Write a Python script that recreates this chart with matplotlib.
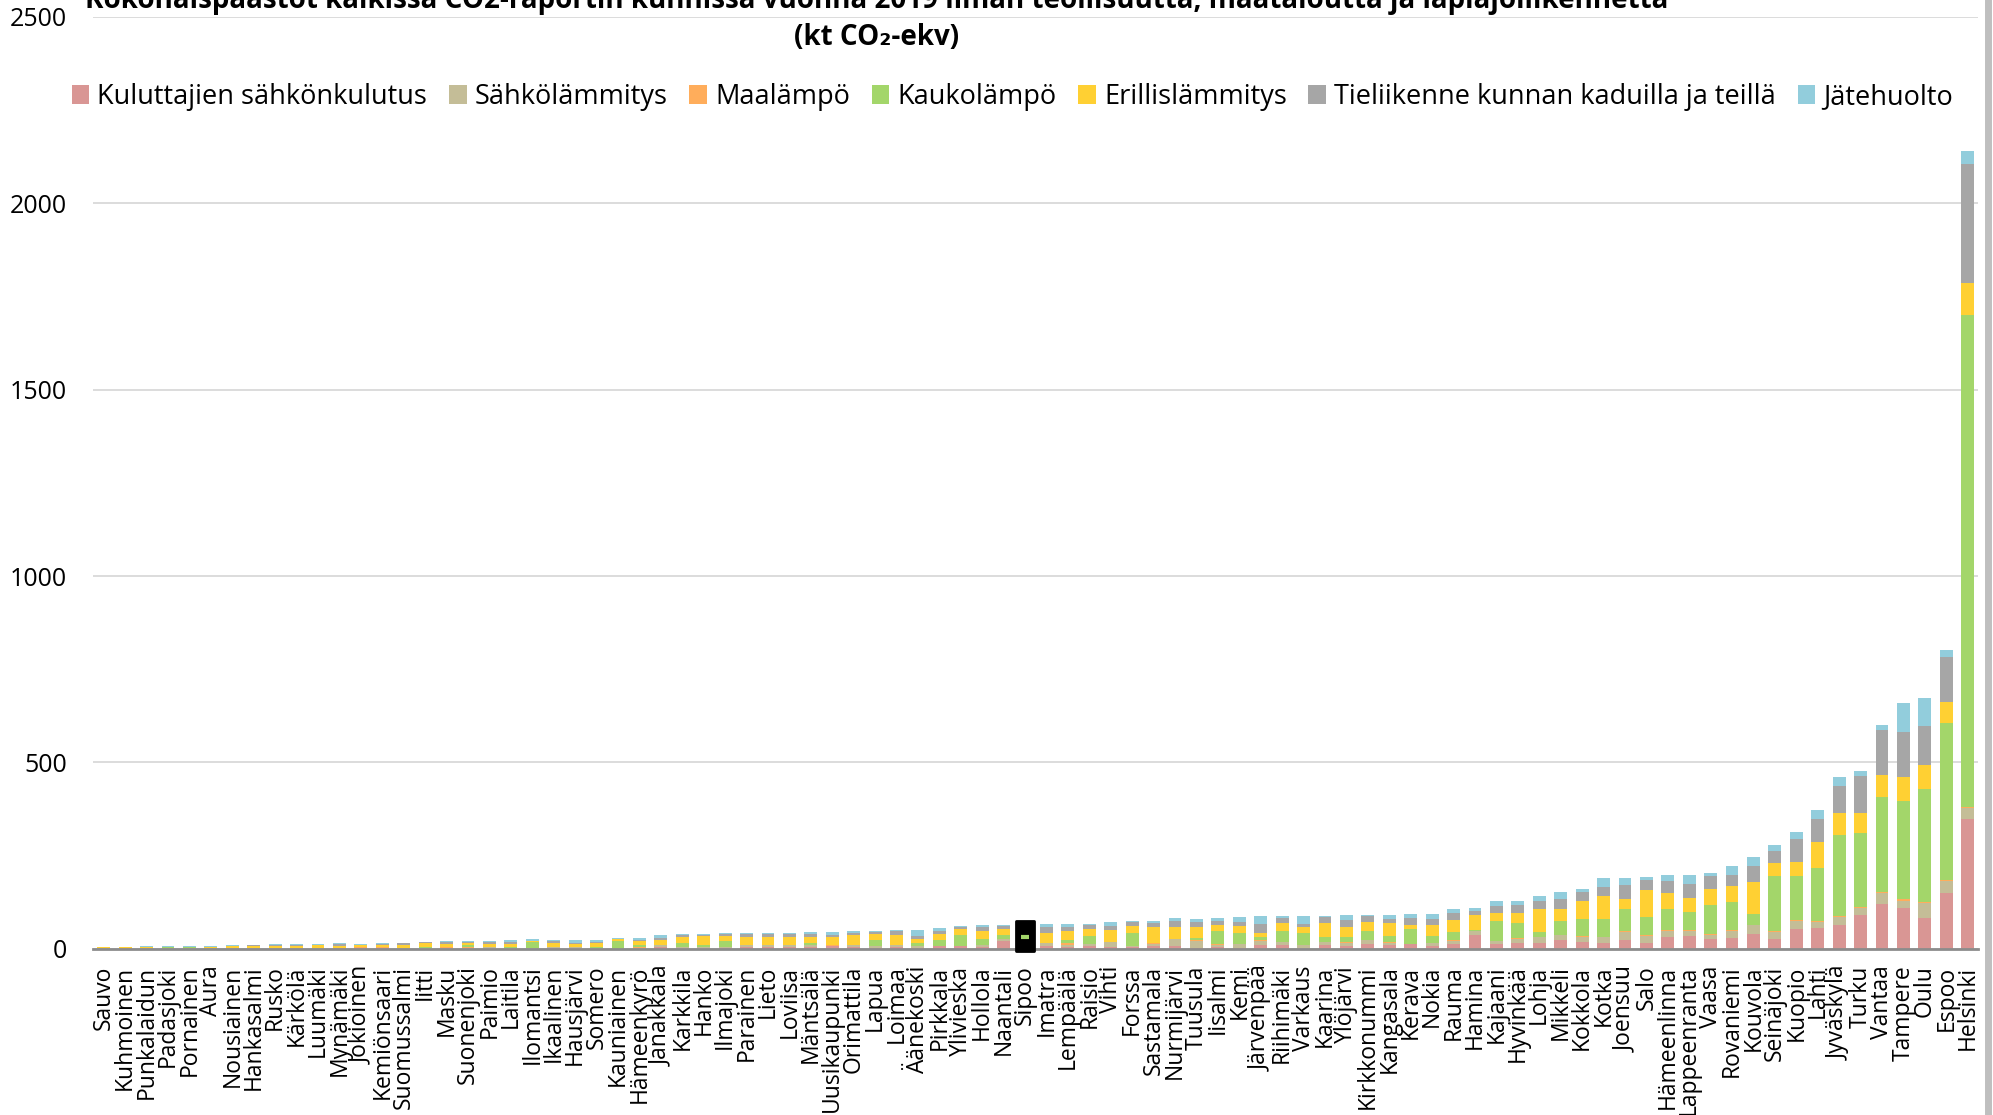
import matplotlib.pyplot as plt
import numpy as np
from matplotlib.patches import Rectangle
from matplotlib.lines import Line2D

plt.rcParams['font.family'] = ['Open Sans', 'DejaVu Sans']

kunnat = ["Sauvo", "Kuhmoinen", "Punkalaidun", "Padasjoki", "Pornainen", "Aura",
          "Nousiainen", "Hankasalmi", "Rusko", "Kärkölä", "Luumäki", "Mynämäki",
          "Jokioinen", "Kemiönsaari", "Suomussalmi", "Iitti", "Masku", "Suonenjoki",
          "Paimio", "Laitila", "Ilomantsi", "Ikaalinen", "Hausjärvi", "Somero",
          "Kauniainen", "Hämeenkyrö", "Janakkala", "Karkkila", "Hanko", "Ilmajoki",
          "Parainen", "Lieto", "Loviisa", "Mäntsälä", "Uusikaupunki", "Orimattila",
          "Lapua", "Loimaa", "Äänekoski", "Pirkkala", "Ylivieska", "Hollola",
          "Naantali", "Sipoo", "Imatra", "Lempäälä", "Raisio", "Vihti", "Forssa",
          "Sastamala", "Nurmijärvi", "Tuusula", "Iisalmi", "Kemi", "Järvenpää",
          "Riihimäki", "Varkaus", "Kaarina", "Ylöjärvi", "Kirkkonummi", "Kangasala",
          "Kerava", "Nokia", "Rauma", "Hamina", "Kajaani", "Hyvinkää", "Lohja",
          "Mikkeli", "Kokkola", "Kotka", "Joensuu", "Salo", "Hämeenlinna",
          "Lappeenranta", "Vaasa", "Rovaniemi", "Kouvola", "Seinäjoki", "Kuopio",
          "Lahti", "Jyväskylä", "Turku", "Vantaa", "Tampere", "Oulu", "Espoo",
          "Helsinki"]

sahkonkulutus = [0.5, 0.3, 0.5, 0.3, 0.3, 0.5, 0.5, 0.3, 0.8, 0.5, 0.5, 1.0,
                 1.0, 2.7, 0.5, 0.5, 0.5, 0.5, 0.5, 0.5, 0.5, 1.5, 0.5, 0.5,
                 0.3, 0.5, 4.5, 0.5, 0.5, 3.0, 5.4, 5.4, 5.4, 5.4, 7.0, 5.4,
                 3.6, 5.4, 3.6, 7.0, 7.0, 6.3, 21.4, 6.0, 7.1, 5.4, 7.1, 4.5, 4.5,
                 7.1, 7.1, 2.7, 5.4, 2.7, 9.8, 9.8, 0.5, 9.8, 8.0, 12.5, 9.8,
                 13.4, 8.0, 13.4, 36.6, 14.3, 17.0, 17.0, 25.0, 19.6, 17.0, 25.0,
                 17.0, 33.0, 35.7, 27.7, 30.4, 41.0, 27.7, 54.5, 57.1, 65.2, 92.0,
                 121.4, 110.7, 83.9, 150.9, 349.0]
sahkolammitys = [0.5, 0.5, 1.0, 1.5, 0.7, 1.0, 1.0, 1.0, 1.5, 1.5, 2.7, 2.0,
                 0.5, 0.5, 2.7, 2.0, 3.0, 3.0, 3.6, 1.5, 1.0, 2.5, 5.5, 2.5,
                 0.5, 3.0, 6.3, 3.6, 5.4, 1.5, 5.4, 5.4, 5.4, 4.5, 1.0, 5.4,
                 4.5, 5.4, 4.5, 0.5, 1.0, 4.5, 4.5, 6.0, 8.0, 6.3, 5.4, 13.4, 2.7,
                 7.1, 18.8, 18.8, 5.4, 9.8, 10.7, 8.0, 8.9, 8.0, 7.1, 10.7, 5.4,
                 0.3, 7.1, 8.9, 10.7, 7.1, 10.7, 14.3, 11.6, 12.5, 15.2, 19.6,
                 17.0, 16.0, 12.5, 10.7, 18.8, 22.3, 17.0, 21.4, 16.0, 21.4, 18.8,
                 29.5, 18.8, 40.2, 31.3, 27.7]
maalampo = [1.0, 1.0, 1.0, 0.3, 0.2, 1.0, 2.0, 0.3, 0.3, 0.3, 0.3, 0.5,
            3.5, 2.0, 0.3, 0.3, 0.3, 0.3, 0.3, 0.3, 0.2, 1.5, 0.3, 0.2,
            0.0, 0.2, 0.3, 0.2, 0.2, 0.2, 0.3, 0.3, 0.3, 0.3, 2.0, 0.3,
            0.3, 0.3, 0.3, 0.3, 0.3, 0.3, 0.3, 1.0, 0.3, 2.7, 0.3, 0.5, 0.3,
            0.9, 0.3, 2.7, 2.7, 0.5, 3.6, 0.3, 0.3, 0.3, 3.6, 0.3, 3.6,
            0.2, 0.3, 2.7, 0.3, 0.3, 0.3, 0.3, 1.8, 1.8, 0.3, 2.7,
            2.7, 0.3, 1.5, 2.7, 0.3, 0.3, 2.7, 0.3, 0.3, 0.5, 2.7,
            2.7, 3.6, 0.5, 2.7, 4.6]
kaukolampo = [0.0, 0.0, 0.0, 2.0, 3.5, 0.0, 0.0, 2.0, 0.0, 0.0, 0.0, 0.0,
              0.0, 0.0, 0.0, 2.0, 2.0, 7.0, 0.0, 3.6, 16.0, 0.0, 0.0, 2.5,
              21.0, 5.4, 0.0, 12.5, 3.6, 15.2, 0.0, 0.0, 0.0, 6.3, 0.0, 0.0,
              16.0, 0.0, 8.0, 17.0, 27.7, 16.0, 11.6, 18.0, 0.0, 8.9, 21.4, 0.0, 34.8,
              0.0, 1.0, 3.6, 33.9, 29.5, 7.1, 29.5, 33.0, 13.4, 12.5, 24.1, 15.2,
              39.3, 18.8, 19.6, 2.7, 51.8, 40.2, 12.5, 37.5, 47.3, 46.4, 60.7,
              50.0, 56.3, 50.0, 77.7, 75.0, 28.6, 149.0, 117.9, 144.6, 217.0, 198.2,
              254.5, 264.3, 305.4, 421.4, 1318.0]
erillislammitys = [2.0, 2.5, 2.0, 1.5, 0.5, 3.0, 3.0, 5.0, 6.0, 6.0, 7.0, 5.0,
                   6.0, 5.4, 8.0, 12.0, 8.0, 5.0, 9.0, 7.0, 2.7, 10.7, 8.0, 10.7,
                   3.6, 12.5, 13.4, 14.3, 24.0, 13.4, 19.6, 21.4, 21.4, 16.0, 21.4, 25.0,
                   16.0, 26.8, 10.7, 16.0, 16.0, 21.4, 16.0, 22.0, 26.8, 24.1, 18.8, 32.1, 18.8,
                   42.9, 32.1, 32.1, 16.0, 18.8, 10.7, 21.4, 16.0, 37.5, 26.8, 24.1, 34.8,
                   10.7, 29.5, 32.1, 40.2, 21.4, 26.8, 61.6, 32.0, 48.2, 61.6, 26.8,
                   72.3, 45.5, 37.5, 42.9, 42.9, 88.4, 34.8, 40.2, 69.6, 61.6, 53.6,
                   58.9, 64.3, 64.3, 56.3, 86.0]
tieliikenne = [0.5, 0.3, 1.0, 0.3, 1.0, 0.5, 2.0, 1.0, 1.5, 2.7, 0.9, 5.0,
               0.5, 2.7, 3.0, 0.5, 4.5, 3.6, 4.5, 4.5, 1.8, 4.5, 2.0, 2.7,
               1.8, 2.7, 5.4, 5.4, 2.7, 5.4, 8.0, 8.0, 8.0, 8.0, 5.4, 7.0,
               5.4, 10.7, 8.0, 8.0, 5.4, 10.7, 8.0, 9.0, 16.0, 10.7, 10.7, 10.7, 10.7,
               10.7, 16.0, 13.4, 10.7, 10.7, 24.1, 13.4, 8.0, 16.0, 18.8, 16.0, 10.7,
               18.8, 16.0, 18.8, 10.7, 18.8, 21.4, 21.4, 26.8, 24.1, 24.1, 37.5,
               26.8, 32.1, 37.5, 34.8, 29.5, 42.9, 32.1, 61.6, 61.6, 72.3, 99.1,
               120.5, 120.5, 104.5, 120.5, 318.5]
jatehuolto = [1.0, 1.0, 1.8, 1.8, 1.8, 1.8, 1.8, 1.0, 2.7, 2.0, 1.8, 1.8,
              1.8, 1.8, 1.0, 1.8, 2.7, 1.8, 2.7, 6.3, 3.6, 2.7, 8.0, 4.5,
              2.7, 5.4, 6.3, 2.7, 2.7, 2.7, 2.7, 2.7, 2.7, 5.4, 8.0, 5.4,
              2.7, 2.7, 16.0, 8.0, 2.7, 5.4, 2.7, 4.0, 8.0, 8.0, 2.7, 10.7, 2.7,
              5.4, 8.0, 8.0, 8.0, 13.4, 21.4, 5.4, 21.4, 2.7, 13.4, 2.7, 10.7,
              10.7, 13.4, 10.7, 8.0, 13.4, 10.7, 16.0, 18.8, 8.0, 26.8, 18.8,
              8.0, 16.0, 24.1, 8.0, 24.1, 24.1, 16.0, 18.8, 24.1, 24.1, 13.4,
              13.4, 77.7, 75.0, 18.8, 35.4]

sarjat = ["Kuluttajien sähkönkulutus", "Sähkölämmitys", "Maalämpö", "Kaukolämpö",
          "Erillislämmitys", "Tieliikenne kunnan kaduilla ja teillä", "Jätehuolto"]
arvot = [sahkonkulutus, sahkolammitys, maalampo, kaukolampo, erillislammitys,
         tieliikenne, jatehuolto]
varit = ['#D99694', '#C4BD97', '#FFAD5B', '#A3D66A', '#FFD033', '#A6A6A6', '#92CDDC']

fig = plt.figure(figsize=(19.93, 11.15), dpi=100)
ax = fig.add_axes([0.0467, 0.149, 0.946, 0.836])

x = np.arange(len(kunnat))
pohja = np.zeros(len(kunnat))
for nimi, arvo, vari in zip(sarjat, arvot, varit):
    arvo = np.array(arvo)
    ax.bar(x, arvo, 0.6, bottom=pohja, color=vari, label=nimi, zorder=3)
    pohja += arvo

ax.set_xlim(-0.5, len(kunnat) - 0.5)
ax.set_ylim(0, 2500)
ax.set_yticks(np.arange(0, 2501, 500))
ax.yaxis.grid(True, color='#D9D9D9', linewidth=1.3, zorder=0)
ax.set_axisbelow(True)
ax.set_xticks(x)
ax.set_xticklabels(kunnat, rotation=90, fontsize=16.5)
ax.tick_params(axis='y', labelsize=18, length=0, pad=19)
ax.tick_params(axis='x', length=0, pad=12)
for s in ['top', 'right', 'left']:
    ax.spines[s].set_visible(False)
ax.spines['bottom'].set_color('#8C8C8C')
ax.spines['bottom'].set_linewidth(2)
ax.spines['bottom'].set_zorder(4)

# valittu piste (Sipoo)
i = kunnat.index("Sipoo")
ax.add_patch(Rectangle((i - 0.4, -7), 0.8, pohja[i] + 15, facecolor='black',
                       edgecolor='black', linewidth=2, joinstyle='round',
                       clip_on=False, zorder=6))
ax.plot([i - 0.17, i + 0.17], [32, 32], color='#A3D66A', linewidth=3,
        solid_capstyle='butt', zorder=7, clip_on=False)

fig.text(0.44, 0.9928, "Kokonaispäästöt kaikissa CO2-raportin kunnissa vuonna 2019 "
         "ilman teollisuutta, maataloutta ja läpiajoliikennettä",
         ha='center', va='baseline', fontsize=20, fontweight='bold')
fig.text(0.44, 0.966, "(kt CO₂-ekv)", ha='center', va='center',
         fontsize=20, fontweight='bold')

fig.legend(loc='center', bbox_to_anchor=(0.508, 0.913), ncol=7, frameon=False,
           fontsize=19.5, handlelength=0.65, handleheight=0.65, handletextpad=0.3,
           columnspacing=0.8)

fig.add_artist(Line2D([0.9975, 0.9975], [0, 1], color='#BFBFBF', linewidth=5,
                      transform=fig.transFigure))

fig.savefig('out.png', dpi=100)
